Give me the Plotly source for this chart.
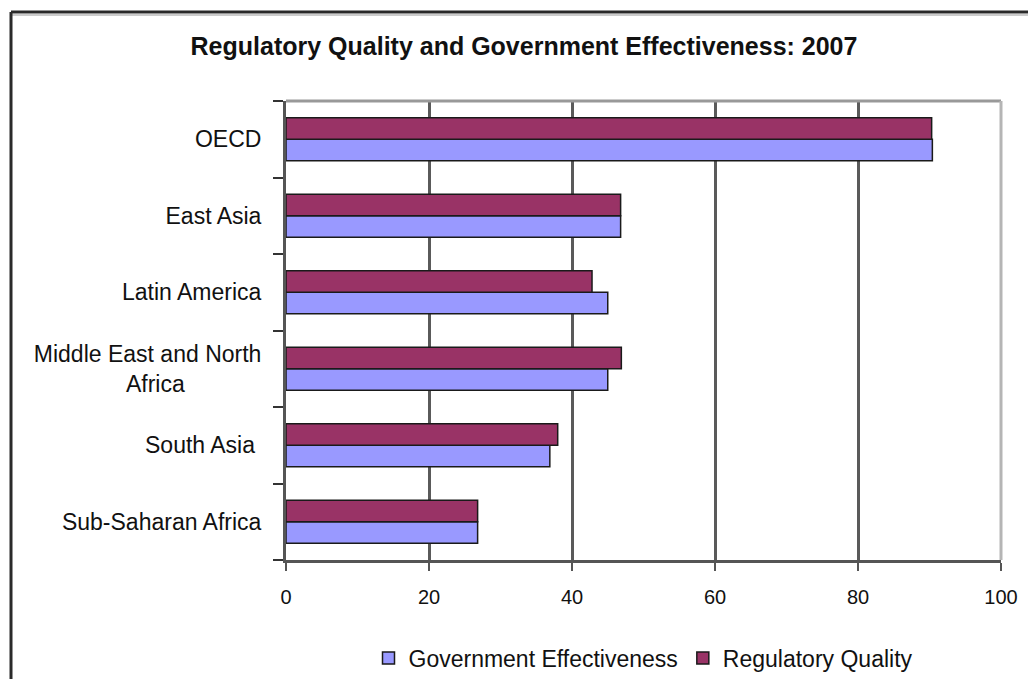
import plotly.graph_objects as go

# Data (top-to-bottom order as shown in the chart)
categories = ["OECD", "East Asia", "Latin America", "Middle East and North Africa",
              "South Asia", "Sub-Saharan Africa"]
tick_labels = ["OECD", "East Asia", "Latin America",
               "Middle East and North<br>Africa" + "&nbsp;" * 12,
               "South Asia&nbsp;", "Sub-Saharan Africa"]
gov_effectiveness = [90.4, 46.8, 45.0, 45.0, 36.9, 26.8]
regulatory_quality = [90.3, 46.8, 42.8, 46.9, 38.0, 26.8]
x_ticks = [0, 20, 40, 60, 80, 100]

# plot bottom-to-top so Regulatory Quality sits above Government Effectiveness
cats_plot = categories[::-1]
labels_plot = tick_labels[::-1]

FONT = "Liberation Sans, Arial, sans-serif"

fig = go.Figure()
fig.add_trace(go.Bar(
    y=cats_plot, x=gov_effectiveness[::-1], orientation="h",
    name="Government Effectiveness",
    marker=dict(color="#9999FF", line=dict(color="#1a1a1a", width=1.5)),
))
fig.add_trace(go.Bar(
    y=cats_plot, x=regulatory_quality[::-1], orientation="h",
    name="Regulatory Quality",
    marker=dict(color="#993366", line=dict(color="#1a1a1a", width=1.5)),
))

fig.update_layout(
    width=1028, height=679,
    margin=dict(l=286, r=27, t=101, b=119, autoexpand=False),
    paper_bgcolor="white", plot_bgcolor="white",
    barmode="group", bargap=0.44, bargroupgap=0,
    font=dict(family=FONT, color="#111111"),
    title=dict(text="<b>Regulatory Quality and Government Effectiveness: 2007</b>",
               x=524 / 1028, xanchor="center", y=1 - 46 / 679, yanchor="middle",
               font=dict(size=25, color="#111111", family=FONT)),
    legend=dict(orientation="h", xref="paper", x=0.5, xanchor="center",
                yref="container", y=1 - 658 / 679, yanchor="middle",
                font=dict(size=23, color="#111111"), bgcolor="rgba(0,0,0,0)",
                itemwidth=30, traceorder="normal"),
    showlegend=True,
)

fig.update_xaxes(
    range=[0, 100], tickvals=x_ticks, ticktext=[str(v) for v in x_ticks],
    showgrid=True, gridcolor="#5a5a5a", gridwidth=2.5,
    showline=True, linecolor="#555555", linewidth=3,
    ticks="outside", ticklen=8, tickwidth=2, tickcolor="#555555",
    ticklabelstandoff=9,
    tickfont=dict(size=20, color="#111111"), zeroline=False, fixedrange=True,
    automargin=False,
)
fig.update_yaxes(
    type="category", categoryorder="array", categoryarray=cats_plot,
    tickvals=cats_plot, ticktext=labels_plot,
    showgrid=False, showline=True, linecolor="#555555", linewidth=3,
    ticks="outside", tickson="boundaries", ticklen=10, tickwidth=2, tickcolor="#333333",
    ticklabelstandoff=17,
    tickfont=dict(size=23, color="#111111"), fixedrange=True,
    automargin=False,
)

# plot-area border (top & right, light gray)
fig.add_shape(type="line", xref="paper", yref="paper", x0=0, x1=1, y0=1, y1=1,
              line=dict(color="#999999", width=3))
fig.add_shape(type="line", xref="paper", yref="paper", x0=1, x1=1, y0=0, y1=1,
              line=dict(color="#b5b5b5", width=3))

# outer chart border (left & top, dark)
xl = (11 - 286) / 715
yt = (560 - 12) / 459
fig.add_shape(type="line", xref="paper", yref="paper", x0=xl, x1=1.1, y0=yt, y1=yt,
              line=dict(color="#2a2a2a", width=3))
fig.add_shape(type="line", xref="paper", yref="paper", x0=xl, x1=1.1,
              y0=(560 - 15) / 459, y1=(560 - 15) / 459,
              line=dict(color="#cccccc", width=2))
fig.add_shape(type="line", xref="paper", yref="paper", x0=xl, x1=xl, y0=-0.5, y1=yt,
              line=dict(color="#2a2a2a", width=3))

fig.write_html("out.html")
